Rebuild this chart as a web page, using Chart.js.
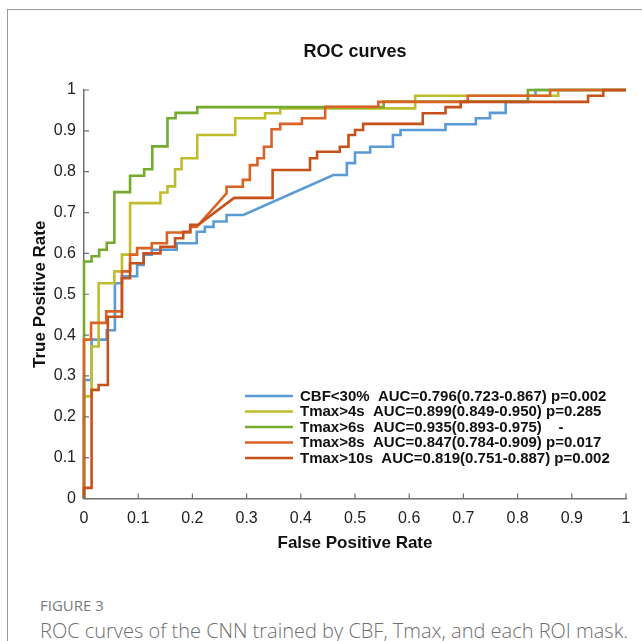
<!DOCTYPE html>
<html>
<head>
<meta charset="utf-8">
<script src="https://cdn.jsdelivr.net/npm/chart.js@4.4.0/dist/chart.umd.min.js"></script>
<style>
  html, body { margin: 0; padding: 0; background: #fff; }
  body { width: 642px; height: 641px; position: relative; overflow: hidden; }
  .frame { position: absolute; left: 7px; top: 9px; width: 700px; height: 700px;
           border-left: 1.5px solid #9a9a9a; border-top: 1.5px solid #9a9a9a; }
  .chart-box { position: absolute; left: 0; top: 0; width: 642px; height: 560px; }
  .fig-label { position: absolute; left: 40px; top: 595px; font-family: "Open Sans", sans-serif;
               font-size: 15px; color: #7a7a7a; }
  .fig-caption { position: absolute; left: 40px; top: 617px; font-family: "Open Sans", sans-serif;
                 font-size: 20px; font-weight: 300; color: #6e6e6e; white-space: nowrap; }
</style>
</head>
<body>
<div class="frame"></div>
<div class="chart-box"><canvas id="roc" width="642" height="560"></canvas></div>
<div class="fig-label">FIGURE 3</div>
<div class="fig-caption">ROC curves of the CNN trained by CBF, Tmax, and each ROI mask.</div>

<script>
// tick labels
const xTickLabels = ['0', '0.1', '0.2', '0.3', '0.4', '0.5', '0.6', '0.7', '0.8', '0.9', '1'];
const yTickLabels = ['0', '0.1', '0.2', '0.3', '0.4', '0.5', '0.6', '0.7', '0.8', '0.9', '1'];

// series names and legend text
const seriesNames = ['CBF<30%', 'Tmax>4s', 'Tmax>6s', 'Tmax>8s', 'Tmax>10s'];
const aucText = [
  'AUC=0.796(0.723-0.867) p=0.002',
  'AUC=0.899(0.849-0.950) p=0.285',
  'AUC=0.935(0.893-0.975)    -',
  'AUC=0.847(0.784-0.909) p=0.017',
  'AUC=0.819(0.751-0.887) p=0.002'
];

// ROC vertices [FPR, TPR]
const cbf30 = [[0,0],[0,0.29],[0.014,0.29],[0.014,0.389],[0.042,0.389],[0.042,0.412],[0.057,0.412],
  [0.057,0.527],[0.07,0.527],[0.07,0.544],[0.098,0.544],[0.098,0.572],[0.11,0.572],[0.11,0.597],
  [0.125,0.597],[0.125,0.609],[0.171,0.609],[0.171,0.625],[0.208,0.625],[0.208,0.653],[0.223,0.653],
  [0.223,0.665],[0.239,0.665],[0.239,0.678],[0.263,0.678],[0.263,0.694],[0.294,0.694],[0.46,0.792],
  [0.485,0.792],[0.485,0.821],[0.5,0.821],[0.5,0.847],[0.528,0.847],[0.528,0.861],[0.57,0.861],
  [0.57,0.89],[0.584,0.89],[0.584,0.902],[0.667,0.902],[0.667,0.916],[0.723,0.916],[0.723,0.931],
  [0.749,0.931],[0.749,0.944],[0.778,0.944],[0.778,0.971],[0.819,0.971],[0.819,0.986],[0.833,0.986],
  [0.833,1],[1,1]];

const tmax4 = [[0,0],[0,0.25],[0.014,0.25],[0.014,0.372],[0.027,0.372],[0.027,0.527],[0.056,0.527],
  [0.056,0.556],[0.07,0.556],[0.07,0.597],[0.085,0.597],[0.085,0.723],[0.141,0.723],[0.141,0.749],
  [0.154,0.749],[0.154,0.764],[0.168,0.764],[0.168,0.806],[0.18,0.806],[0.18,0.833],[0.209,0.833],
  [0.209,0.89],[0.279,0.89],[0.279,0.931],[0.334,0.931],[0.334,0.943],[0.362,0.943],[0.362,0.955],
  [0.611,0.955],[0.611,0.986],[0.875,0.986],[0.875,1],[1,1]];

const tmax6 = [[0,0],[0,0.58],[0.014,0.58],[0.014,0.593],[0.028,0.593],[0.028,0.609],[0.042,0.609],
  [0.042,0.626],[0.056,0.626],[0.056,0.75],[0.085,0.75],[0.085,0.79],[0.111,0.79],[0.111,0.806],
  [0.126,0.806],[0.126,0.862],[0.154,0.862],[0.154,0.931],[0.169,0.931],[0.169,0.944],[0.209,0.944],
  [0.209,0.958],[0.553,0.958],[0.553,0.972],[0.819,0.972],[0.819,1],[1,1]];

const tmax8 = [[0,0],[0,0.389],[0.013,0.389],[0.013,0.43],[0.041,0.43],[0.041,0.458],[0.07,0.458],
  [0.07,0.556],[0.085,0.556],[0.085,0.597],[0.098,0.597],[0.098,0.613],[0.125,0.613],[0.125,0.625],
  [0.153,0.625],[0.153,0.651],[0.196,0.651],[0.196,0.665],[0.208,0.665],[0.263,0.747],[0.263,0.763],
  [0.293,0.763],[0.293,0.78],[0.306,0.78],[0.306,0.816],[0.32,0.816],[0.32,0.833],[0.332,0.833],
  [0.332,0.861],[0.346,0.861],[0.346,0.904],[0.362,0.904],[0.362,0.917],[0.402,0.917],[0.402,0.931],
  [0.445,0.931],[0.445,0.959],[0.543,0.959],[0.543,0.971],[0.708,0.971],[0.708,0.986],[0.86,0.986],
  [0.86,1],[1,1]];

const tmax10 = [[0,0],[0,0.026],[0.014,0.026],[0.014,0.266],[0.027,0.266],[0.027,0.278],[0.044,0.278],
  [0.044,0.445],[0.07,0.445],[0.07,0.539],[0.085,0.539],[0.085,0.576],[0.11,0.576],[0.11,0.6],
  [0.141,0.6],[0.141,0.616],[0.168,0.616],[0.168,0.637],[0.183,0.637],[0.183,0.653],[0.196,0.653],
  [0.196,0.67],[0.211,0.67],[0.277,0.736],[0.348,0.736],[0.348,0.804],[0.417,0.804],[0.417,0.833],
  [0.43,0.833],[0.43,0.849],[0.472,0.849],[0.472,0.861],[0.488,0.861],[0.488,0.89],[0.5,0.89],
  [0.5,0.902],[0.515,0.902],[0.515,0.917],[0.625,0.917],[0.625,0.943],[0.667,0.943],[0.667,0.958],
  [0.695,0.958],[0.695,0.971],[0.93,0.971],[0.93,0.986],[0.958,0.986],[0.958,1],[1,1]];

const allSeries = [cbf30, tmax4, tmax6, tmax8, tmax10];
const lineColors = ['#5b9bd5', '#bfbd2c', '#74ab2f', '#da6224', '#c8501a'];

const datasets = allSeries.map((pts, i) => ({
  label: seriesNames[i] + '  ' + aucText[i],
  data: pts.map(p => ({ x: p[0], y: p[1] })),
  borderColor: lineColors[i],
  borderWidth: 2.6,
  pointRadius: 0,
  tension: 0,
  fill: false,
  clip: 4,
  order: allSeries.length - i   // later series drawn on top
}));

// title, inward ticks and in-plot legend
const rocDecor = {
  id: 'rocDecor',
  afterDraw(chart) {
    const ctx = chart.ctx;
    const area = chart.chartArea;
    const xs = chart.scales.x, ys = chart.scales.y;
    ctx.save();

    // inward tick marks
    ctx.strokeStyle = '#707070';
    ctx.lineWidth = 1.2;
    ctx.beginPath();
    xs.ticks.forEach(t => {
      const px = xs.getPixelForValue(t.value);
      ctx.moveTo(px, area.bottom);
      ctx.lineTo(px, area.bottom - 5);
    });
    ys.ticks.forEach(t => {
      const py = ys.getPixelForValue(t.value);
      ctx.moveTo(area.left, py);
      ctx.lineTo(area.left + 5, py);
    });
    ctx.stroke();

    // title
    ctx.fillStyle = '#111';
    ctx.font = 'bold 18px "Liberation Sans", Arial, sans-serif';
    ctx.textAlign = 'center';
    ctx.textBaseline = 'middle';
    ctx.fillText('ROC curves', (area.left + area.right) / 2, 52);

    // legend
    ctx.font = 'bold 15px "Liberation Sans", Arial, sans-serif';
    ctx.textAlign = 'left';
    chart.data.datasets.forEach((ds, i) => {
      const y = 396 + i * 15.5;
      ctx.strokeStyle = ds.borderColor;
      ctx.lineWidth = 2.4;
      ctx.beginPath();
      ctx.moveTo(245, y);
      ctx.lineTo(293, y);
      ctx.stroke();
      ctx.fillStyle = '#111';
      ctx.fillText(ds.label, 300, y + 0.5);
    });
    ctx.restore();
  }
};

new Chart(document.getElementById('roc').getContext('2d'), {
  type: 'line',
  data: { datasets: datasets },
  options: {
    responsive: false,
    animation: false,
    layout: { padding: { top: 90, left: 0, right: 16, bottom: 0 } },
    plugins: {
      legend: { display: false },
      tooltip: { enabled: false },
      title: { display: false }
    },
    elements: { line: { borderCapStyle: 'butt', borderJoinStyle: 'miter' } },
    scales: {
      x: {
        type: 'linear',
        min: 0,
        max: 1,
        afterFit: s => { s.height = 61.5; },
        grid: { display: false, drawTicks: false },
        border: { display: true, color: '#707070', width: 1.5 },
        ticks: {
          stepSize: 0.1,
          autoSkip: false,
          maxRotation: 0,
          padding: 10,
          color: '#222',
          font: { family: '"Liberation Sans", Arial, sans-serif', size: 16 },
          callback: (v, i) => xTickLabels[i]
        },
        title: {
          display: true,
          text: 'False Positive Rate',
          color: '#111',
          font: { family: '"Liberation Sans", Arial, sans-serif', size: 17, weight: 'bold' },
          padding: { top: 0, bottom: 6.8 }
        }
      },
      y: {
        type: 'linear',
        min: 0,
        max: 1,
        afterFit: s => { s.width = 84; },
        grid: { display: false, drawTicks: false },
        border: { display: true, color: '#707070', width: 1.5 },
        ticks: {
          stepSize: 0.1,
          autoSkip: false,
          padding: 8,
          color: '#222',
          font: { family: '"Liberation Sans", Arial, sans-serif', size: 16 },
          callback: (v, i) => yTickLabels[i]
        },
        title: {
          display: true,
          text: 'True Positive Rate',
          color: '#111',
          font: { family: '"Liberation Sans", Arial, sans-serif', size: 17, weight: 'bold' },
          padding: { top: 29.8, bottom: 0 }
        }
      }
    }
  },
  plugins: [rocDecor]
});
</script>
</body>
</html>
